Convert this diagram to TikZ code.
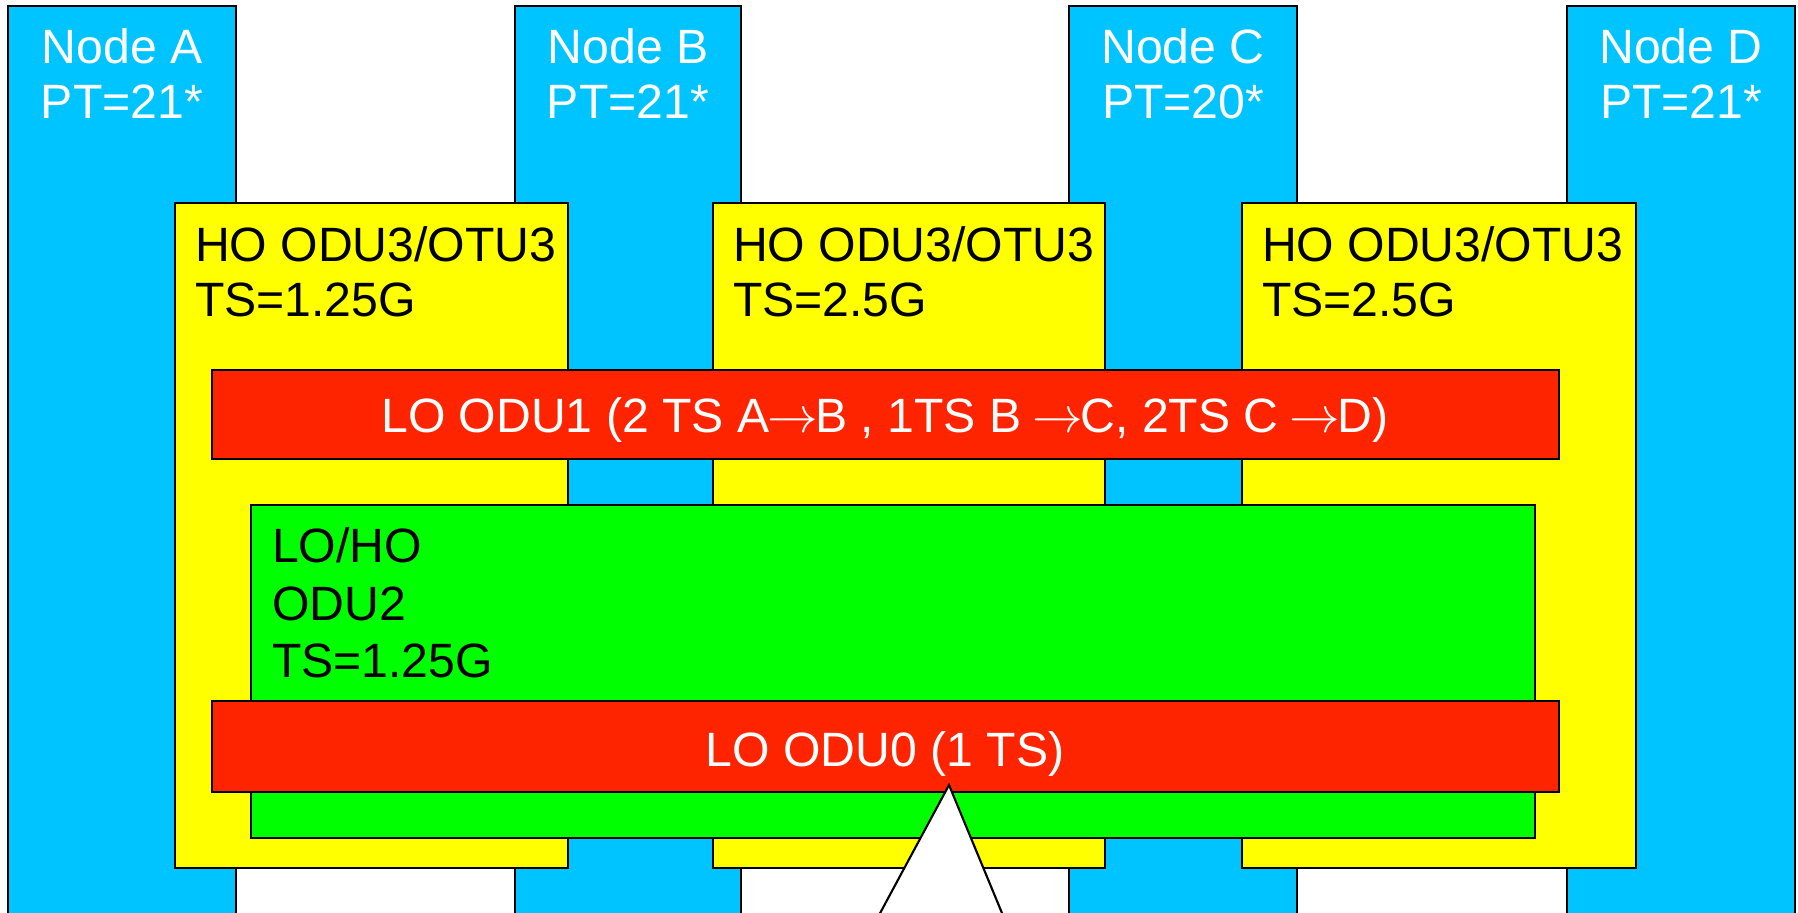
\documentclass[tikz,border=0pt]{standalone}
\usepackage{fontspec}
\setmainfont{Liberation Sans}
\usepackage{xcolor}
\usetikzlibrary{fit,positioning}
\definecolor{nodeblue}{HTML}{00C4FF}
\definecolor{hoyellow}{HTML}{FFFF00}
\definecolor{odugreen}{HTML}{00FF00}
\definecolor{odured}{HTML}{FF2400}
\newcommand{\tsto}{\kern-0.05em$\rightarrow$\kern-0.05em}

\begin{document}
\begin{tikzpicture}[
  x=0.01cm, y=-0.01cm,
  line width=0.6pt,
  box/.style={rectangle, draw=black, inner sep=0pt},
  column/.style={box, fill=nodeblue},
  holayer/.style={box, fill=hoyellow},
  lolayer/.style={box, fill=odured},
  midlayer/.style={box, fill=odugreen},
  txt/.style={inner sep=0pt, font=\fontsize{13.7}{15.6}\selectfont},
  coltext/.style={txt, align=center, text=white},
  hotext/.style={txt, align=left},
  lotext/.style={txt, anchor=base, text=white}
]
  \clip (0,0) rectangle (1798,913);
  \node[column, fit={(8,6) (236,940)}] (colA) {};
  \node[column, fit={(515,6) (741,940)}] (colB) {};
  \node[column, fit={(1069,6) (1297,940)}] (colC) {};
  \node[column, fit={(1567,6) (1795,940)}] (colD) {};
  \node[coltext, below=0.23cm of colA.north] (hdrA) {Node A\\PT=21*};
  \node[coltext, below=0.23cm of colB.north] (hdrB) {Node B\\PT=21*};
  \node[coltext, below=0.23cm of colC.north] (hdrC) {Node C\\PT=20*};
  \node[coltext, below=0.23cm of colD.north] (hdrD) {Node D\\PT=21*};

  \node[holayer, fit={(175,203) (568,868)}] (hoAB) {};
  \node[holayer, fit={(713,203) (1105,868)}] (hoBC) {};
  \node[holayer, fit={(1242,203) (1636,868)}] (hoCD) {};
  \node[hotext, below right=0.24cm and 0.2cm of hoAB.north west] (hoABtxt) {HO ODU3/OTU3\\TS=1.25G};
  \node[hotext, below right=0.24cm and 0.2cm of hoBC.north west] (hoBCtxt) {HO ODU3/OTU3\\TS=2.5G};
  \node[hotext, below right=0.24cm and 0.2cm of hoCD.north west] (hoCDtxt) {HO ODU3/OTU3\\TS=2.5G};

  \node[lolayer, fit={(212,370) (1559,459)}] (odu1) {};
  \node[lotext] (odu1txt) at (885,433) {LO ODU1 (2 TS A\tsto B , 1TS B \tsto C, 2TS C \tsto D)};

  \node[midlayer, fit={(251,505) (1535,838)}] (odu2) {};
  \node[hotext, font=\fontsize{13.7}{16.3}\selectfont, below right=0.23cm and 0.21cm of odu2.north west] (odu2txt) {LO/HO\\ODU2\\TS=1.25G};

  \node[lolayer, fit={(212,701) (1559,792)}] (odu0) {};
  \node[lotext] (odu0txt) at (885,766) {LO ODU0 (1 TS)};

  \coordinate (tip) at (949,785);
  \draw[fill=white] (tip) -- (871,930) -- (1009,930) -- cycle;
\end{tikzpicture}
\end{document}
